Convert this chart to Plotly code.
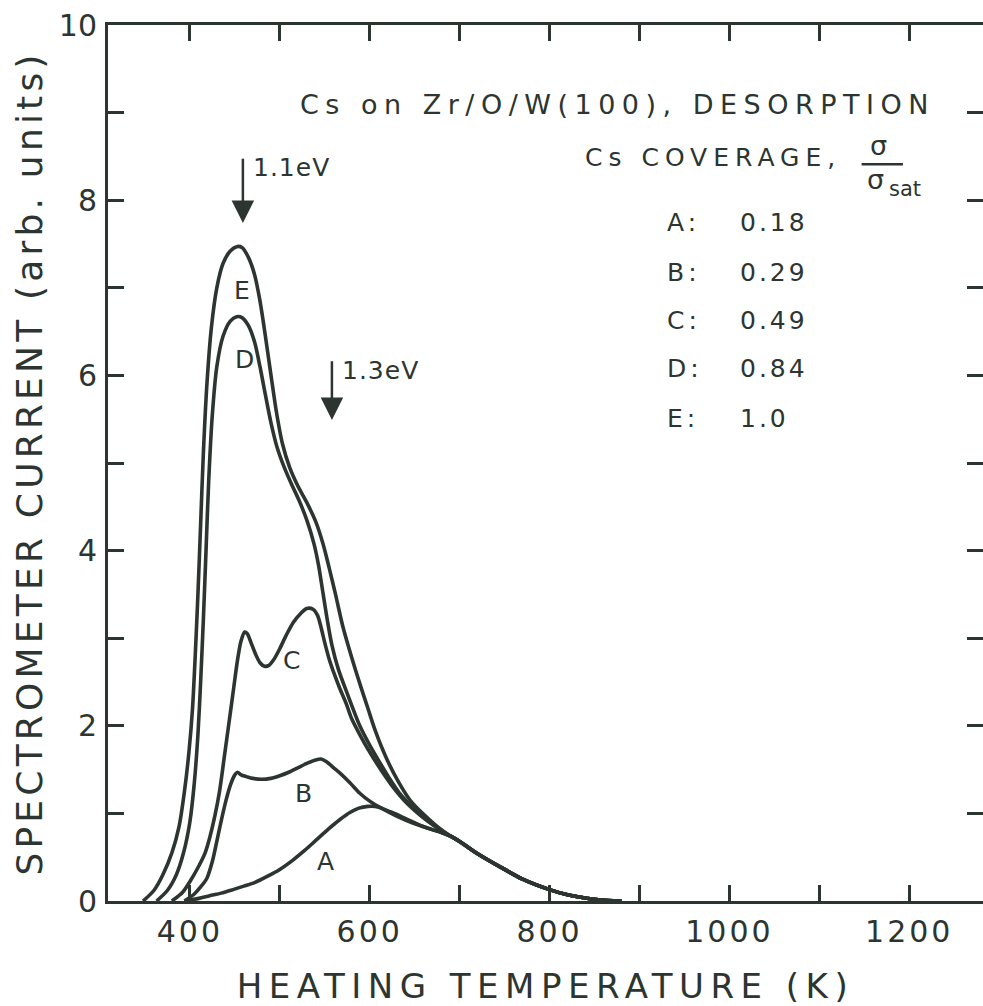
import plotly.graph_objects as go

INK = "#2c3530"
FONT = "DejaVu Sans"

# ---------------- axes / ticks ----------------
X_RANGE = [309, 1282]
Y_RANGE = [0, 10]
X_TICK_VALS = [400, 500, 600, 700, 800, 900, 1000, 1100, 1200]
X_TICK_TEXT = ["400", "", "600", "", "800", "", "1000", "", "1200"]
Y_TICK_VALS = [0, 1, 2, 3, 4, 5, 6, 7, 8, 9, 10]
Y_TICK_TEXT = ["0", "", "2", "", "4", "", "6", "", "8", "", "10"]

X_TITLE = "HEATING TEMPERATURE (K)"
Y_TITLE = "SPECTROMETER CURRENT (arb. units)"
TITLE_TEXT = "Cs on Zr/O/W(100), DESORPTION"
COVERAGE_TEXT = "Cs COVERAGE,"

# ---------------- data ----------------
CURVE_NAMES = ["A", "B", "C", "D", "E"]
COVERAGE = ["0.18", "0.29", "0.49", "0.84", "1.0"]

A_T = [394, 410, 422, 435, 448, 460, 472, 486, 500, 515, 528, 541, 554, 567, 578,
       588, 598, 606, 613, 625, 640, 655, 668, 680]
A_V = [0.0, 0.03, 0.06, 0.09, 0.13, 0.17, 0.21, 0.28, 0.36, 0.47, 0.58, 0.70, 0.82,
       0.93, 1.01, 1.06, 1.08, 1.08, 1.06, 1.01, 0.94, 0.87, 0.82, 0.78]

B_T = [394, 405, 412, 419, 425, 430, 435, 440, 445, 450, 453, 457, 463, 470, 480, 490,
       500, 510, 520, 530, 540, 546, 552, 560, 567, 578, 589, 600, 613, 630, 648, 665, 680]
B_V = [0.0, 0.08, 0.16, 0.26, 0.45, 0.68, 0.92, 1.14, 1.32, 1.44, 1.47, 1.44, 1.42, 1.40,
       1.39, 1.40, 1.43, 1.47, 1.52, 1.57, 1.61, 1.62, 1.59, 1.52, 1.46, 1.35, 1.23, 1.14,
       1.06, 0.97, 0.89, 0.83, 0.78]

C_T = [380, 392, 400, 410, 417, 422, 428, 433, 438, 444, 449, 453, 457, 461, 464, 468,
       473, 478, 483, 488, 493, 500, 507, 515, 523, 530, 537, 542, 546, 550, 555, 561,
       567, 574, 580, 590, 600, 613, 626, 640, 656, 670, 680]
C_V = [0.0, 0.10, 0.22, 0.40, 0.55, 0.72, 0.98, 1.25, 1.62, 2.07, 2.45, 2.75, 2.97, 3.07,
       3.05, 2.95, 2.82, 2.72, 2.68, 2.69, 2.75, 2.88, 3.03, 3.18, 3.28, 3.34, 3.33, 3.26,
       3.12, 2.95, 2.76, 2.58, 2.42, 2.25, 2.08, 1.88, 1.70, 1.49, 1.30, 1.13, 0.98, 0.87,
       0.80]

D_T = [363, 375, 385, 393, 400, 405, 409, 412, 415, 418, 421, 425, 430, 437, 445, 452,
       458, 465, 472, 478, 484, 490, 497, 505, 513, 522, 530, 538, 543, 548, 553, 558,
       565, 575, 589, 600, 609, 622, 634, 648, 662, 680]
D_V = [0.0, 0.12, 0.30, 0.55, 0.90, 1.35, 1.90, 2.50, 3.20, 4.00, 4.80, 5.55, 6.10, 6.45,
       6.62, 6.67, 6.66, 6.57, 6.38, 6.10, 5.78, 5.47, 5.18, 4.95, 4.76, 4.56, 4.35, 4.08,
       3.84, 3.52, 3.20, 2.92, 2.65, 2.37, 2.00, 1.78, 1.62, 1.40, 1.22, 1.07, 0.95, 0.805]

E_T = [348, 360, 370, 380, 388, 394, 399, 403, 406, 409, 412, 415, 419, 424, 430, 437,
       445, 452, 458, 465, 472, 478, 484, 490, 496, 503, 511, 520, 530, 540, 548, 555,
       562, 570, 580, 590, 598, 606, 619, 632, 645, 660, 680]
E_V = [0.0, 0.12, 0.30, 0.55, 0.85, 1.25, 1.70, 2.20, 2.80, 3.50, 4.30, 5.10, 5.90, 6.55,
       7.00, 7.28, 7.42, 7.47, 7.46, 7.35, 7.15, 6.85, 6.45, 6.02, 5.60, 5.22, 4.95, 4.74,
       4.55, 4.33, 4.08, 3.80, 3.50, 3.14, 2.78, 2.45, 2.20, 1.95, 1.62, 1.36, 1.15, 0.99,
       0.81]

# common high-temperature tail shared by all curves
TAIL_T = [690, 700, 720, 745, 770, 800, 820, 845, 865, 880]
TAIL_V = [0.74, 0.68, 0.54, 0.39, 0.25, 0.13, 0.07, 0.025, 0.005, 0.0]

CURVES_T = [A_T, B_T, C_T, D_T, E_T]
CURVES_V = [A_V, B_V, C_V, D_V, E_V]

# curve letter label positions (K, arb. units)
LABEL_T = [551, 526, 513, 461, 458]
LABEL_V = [0.45, 1.23, 2.75, 6.18, 6.97]

# activation-energy arrows
ARROW_TEXT = ["1.1eV", "1.3eV"]
ARROW_T = [459, 558]
ARROW_TAIL_V = [8.49, 6.18]
ARROW_TIP_V = [7.74, 5.49]

# ---------------- figure ----------------
fig = go.Figure()

for name, t, v in zip(CURVE_NAMES, CURVES_T, CURVES_V):
    fig.add_trace(go.Scatter(
        x=t + TAIL_T, y=v + TAIL_V, mode="lines", name=name,
        line=dict(color=INK, width=3.6, shape="spline", smoothing=0.8),
        showlegend=False, hoverinfo="skip"))

def spaced(s, px):
    return f'<span style="letter-spacing:{px}px">{s}</span>'

ann = []
# curve letters
for name, t, v in zip(CURVE_NAMES, LABEL_T, LABEL_V):
    ann.append(dict(x=t, y=v, xref="x", yref="y", text=name, showarrow=False,
                    font=dict(family=FONT, size=25, color=INK),
                    xanchor="center", yanchor="middle"))

# arrows
for txt, t, tail, tip in zip(ARROW_TEXT, ARROW_T, ARROW_TAIL_V, ARROW_TIP_V):
    ann.append(dict(x=t, y=tip, ax=t, ay=tail, xref="x", yref="y", axref="x", ayref="y",
                    text="", showarrow=True, arrowhead=2, arrowsize=1.8, arrowwidth=2.5,
                    arrowcolor=INK))
    ann.append(dict(x=t + 9, y=tail - 0.12, xref="x", yref="y", text=spaced(txt, 1),
                    showarrow=False, font=dict(family=FONT, size=25, color=INK),
                    xanchor="left", yanchor="middle"))

# title block
ann.append(dict(x=876, y=9.09, xref="x", yref="y", text=spaced(TITLE_TEXT, 6.5),
                showarrow=False, font=dict(family=FONT, size=27, color=INK),
                xanchor="center", yanchor="middle"))
ann.append(dict(x=982, y=8.49, xref="x", yref="y", text=spaced(COVERAGE_TEXT, 6),
                showarrow=False, font=dict(family=FONT, size=25, color=INK),
                xanchor="center", yanchor="middle"))
ann.append(dict(x=1166, y=8.63, xref="x", yref="y", text="σ",
                showarrow=False, font=dict(family=FONT, size=27, color=INK),
                xanchor="center", yanchor="middle"))
ann.append(dict(x=1163, y=8.24, xref="x", yref="y", text="σ",
                showarrow=False, font=dict(family=FONT, size=27, color=INK),
                xanchor="center", yanchor="middle"))
ann.append(dict(x=1175, y=8.13, xref="x", yref="y", text="sat",
                showarrow=False, font=dict(family=FONT, size=21, color=INK),
                xanchor="left", yanchor="middle"))

# coverage list
ROW_V = [7.74, 7.17, 6.63, 6.08, 5.51]
for name, cov, v in zip(CURVE_NAMES, COVERAGE, ROW_V):
    ann.append(dict(x=928, y=v, xref="x", yref="y", text=spaced(name + ":", 4),
                    showarrow=False, font=dict(family=FONT, size=25, color=INK),
                    xanchor="left", yanchor="middle"))
    ann.append(dict(x=1009, y=v, xref="x", yref="y", text=spaced(cov, 3),
                    showarrow=False, font=dict(family=FONT, size=25, color=INK),
                    xanchor="left", yanchor="middle"))

fig.add_shape(type="line", x0=1147, x1=1193, y0=8.41, y1=8.41, xref="x", yref="y",
              line=dict(color=INK, width=2.5))

axis_common = dict(showgrid=False, zeroline=False, showline=True, linewidth=3,
                   linecolor=INK, mirror="ticks", ticks="inside", ticklen=16,
                   tickwidth=2.5, tickcolor=INK)

fig.update_layout(
    width=983, height=1006,
    margin=dict(l=108, r=0, t=25, b=105, autoexpand=False),
    paper_bgcolor="white", plot_bgcolor="white",
    font=dict(family=FONT, color=INK),
    xaxis=dict(range=X_RANGE, tickvals=X_TICK_VALS,
               ticktext=[spaced(s, 3) if s else "" for s in X_TICK_TEXT],
               tickfont=dict(family=FONT, size=30, color=INK), ticklabelstandoff=2,
               title=dict(text=spaced(X_TITLE, 6.5), standoff=27,
                          font=dict(family=FONT, size=34, color=INK)),
               **axis_common),
    yaxis=dict(range=Y_RANGE, tickvals=Y_TICK_VALS, ticktext=Y_TICK_TEXT,
               tickfont=dict(family=FONT, size=30, color=INK), ticklabelstandoff=2,
               title=dict(text=spaced(Y_TITLE, 4.2), standoff=6,
                          font=dict(family=FONT, size=36, color=INK)),
               **axis_common),
    annotations=ann,
)

fig.write_html("out.html", config={"displayModeBar": False},
               post_script="document.body.style.margin='0';")
